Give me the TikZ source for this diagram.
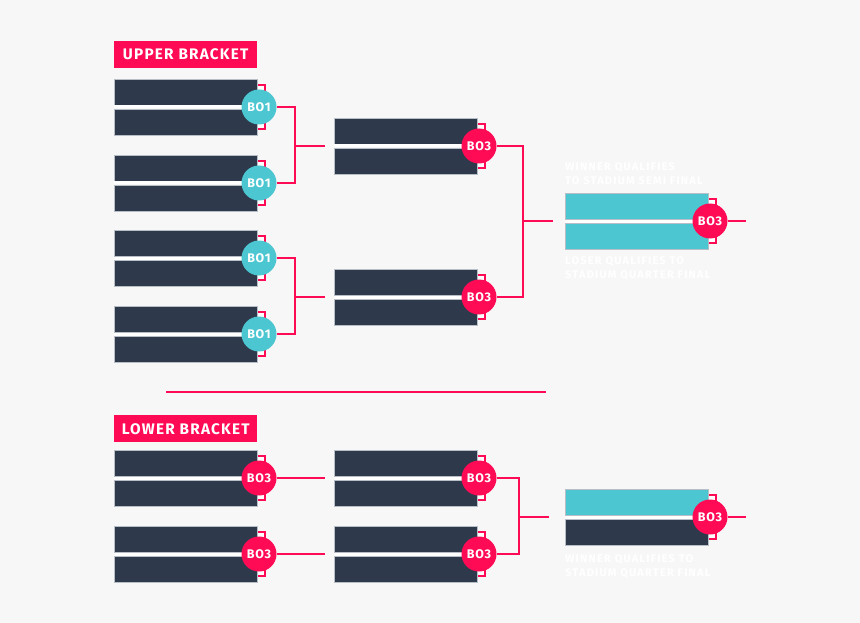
\documentclass[tikz,border=0pt]{standalone}
\usepackage{fontspec}
\setmainfont{Fira Sans}
\newfontfamily\bracketfont[LetterSpace=6]{Fira Sans}
\newfontfamily\tagfont[LetterSpace=8]{Fira Sans}
\newfontfamily\notefont[LetterSpace=11]{Fira Sans}
\usetikzlibrary{positioning, calc}

\definecolor{pagebg}{HTML}{F7F7F7}
\definecolor{slotnavy}{HTML}{2E3A4C}
\definecolor{slotcyan}{HTML}{4CC6D1}
\definecolor{slotedge}{HTML}{B8BEC6}
\definecolor{hotpink}{HTML}{FF0A55}

\tikzset{
    slot/.style={rectangle, minimum width=143pt, minimum height=26pt, inner sep=0pt,
        draw=slotedge, line width=0.6pt, anchor=west},
    navy/.style={fill=slotnavy},
    cyan/.style={fill=slotcyan},
    bestof/.style={circle, minimum size=35pt, inner sep=0pt, text=white,
        font=\bracketfont\fontsize{12.5}{12.5}\selectfont\bfseries},
    wire/.style={draw=hotpink, line width=1.3pt},
    tag/.style={rectangle, fill=hotpink, text=white, minimum width=143pt, minimum height=27pt,
        anchor=north west, inner sep=0pt, font=\tagfont\fontsize{15.3}{15.3}\selectfont\bfseries},
    note/.style={anchor=north west, inner sep=0pt, text=white, align=left,
        font=\notefont\fontsize{11}{14.5}\selectfont\bfseries}
}

% name, left x, centre y, top style, bottom style, circle colour, circle text
\newcommand{\drawmatch}[7]{%
    \draw[wire, fill=white] (#2+143,#3-22) rectangle (#2+151,#3+22);
    \node[slot, #4] (#1t) at (#2,#3-15) {};
    \node[slot, #5] (#1b) at (#2,#3+15) {};
    \draw[white, line width=3pt] (#2,#3) -- (#2+145,#3);
    \node[bestof, fill=#6] (#1c) at (#2+145,#3) {#7};
}

\begin{document}
\begin{tikzpicture}[x=1pt, y=-1pt]
    \fill[pagebg] (0,0) rectangle (860,623);
    \useasboundingbox (0,0) rectangle (860,623);

    % ==========================================
    % UPPER BRACKET
    % ==========================================
    \node[tag] (uppertag) at (114,41) {UPPER BRACKET};

    % Round 1
    \drawmatch{ua}{114}{107}{navy}{navy}{slotcyan}{BO1}
    \drawmatch{ub}{114}{183}{navy}{navy}{slotcyan}{BO1}
    \drawmatch{uc}{114}{258}{navy}{navy}{slotcyan}{BO1}
    \drawmatch{ud}{114}{334}{navy}{navy}{slotcyan}{BO1}

    % Round 2
    \drawmatch{ue}{334}{146}{navy}{navy}{hotpink}{BO3}
    \drawmatch{uf}{334}{297}{navy}{navy}{hotpink}{BO3}

    % Final
    \drawmatch{ug}{565}{221}{cyan}{cyan}{hotpink}{BO3}
    \node[note] (semitext) at (565,162) {WINNER QUALIFIES\\TO STADIUM SEMI FINAL};
    \node[note] (quartertext) at (565,256) {LOSER QUALIFIES TO\\STADIUM QUARTER FINAL};

    % Connectors
    \coordinate (ujoin1) at (295,146);
    \coordinate (ujoin2) at (295,297);
    \coordinate (ujoin3) at (523,221);
    \coordinate (uend1) at (325,146);
    \coordinate (uend2) at (325,297);
    \coordinate (uend3) at (553,221);
    \coordinate (uend4) at (746,221);
    \draw[wire] (uac.east) -| (ujoin1) |- (ubc.east);
    \draw[wire] (ujoin1) -- (uend1);
    \draw[wire] (ucc.east) -| (ujoin2) |- (udc.east);
    \draw[wire] (ujoin2) -- (uend2);
    \draw[wire] (uec.east) -| (ujoin3) |- (ufc.east);
    \draw[wire] (ujoin3) -- (uend3);
    \draw[wire] (ugc.east) -- (uend4);

    % Divider
    \coordinate (divleft) at (166,392);
    \coordinate (divright) at (546,392);
    \draw[wire] (divleft) -- (divright);

    % ==========================================
    % LOWER BRACKET
    % ==========================================
    \node[tag] (lowertag) at (114,415) {LOWER BRACKET};

    % Round 1
    \drawmatch{la}{114}{478}{navy}{navy}{hotpink}{BO3}
    \drawmatch{lb}{114}{554}{navy}{navy}{hotpink}{BO3}

    % Round 2
    \drawmatch{lc}{334}{478}{navy}{navy}{hotpink}{BO3}
    \drawmatch{ld}{334}{554}{navy}{navy}{hotpink}{BO3}

    % Final
    \drawmatch{le}{565}{517}{cyan}{navy}{hotpink}{BO3}
    \node[note] (lowertext) at (565,554) {WINNER QUALIFIES TO\\STADIUM QUARTER FINAL};

    % Connectors
    \coordinate (lend1) at (325,478);
    \coordinate (lend2) at (325,554);
    \coordinate (ljoin) at (519,517);
    \coordinate (lend3) at (549,517);
    \coordinate (lend4) at (746,517);
    \draw[wire] (lac.east) -- (lend1);
    \draw[wire] (lbc.east) -- (lend2);
    \draw[wire] (lcc.east) -| (ljoin) |- (ldc.east);
    \draw[wire] (ljoin) -- (lend3);
    \draw[wire] (lec.east) -- (lend4);
\end{tikzpicture}
\end{document}
